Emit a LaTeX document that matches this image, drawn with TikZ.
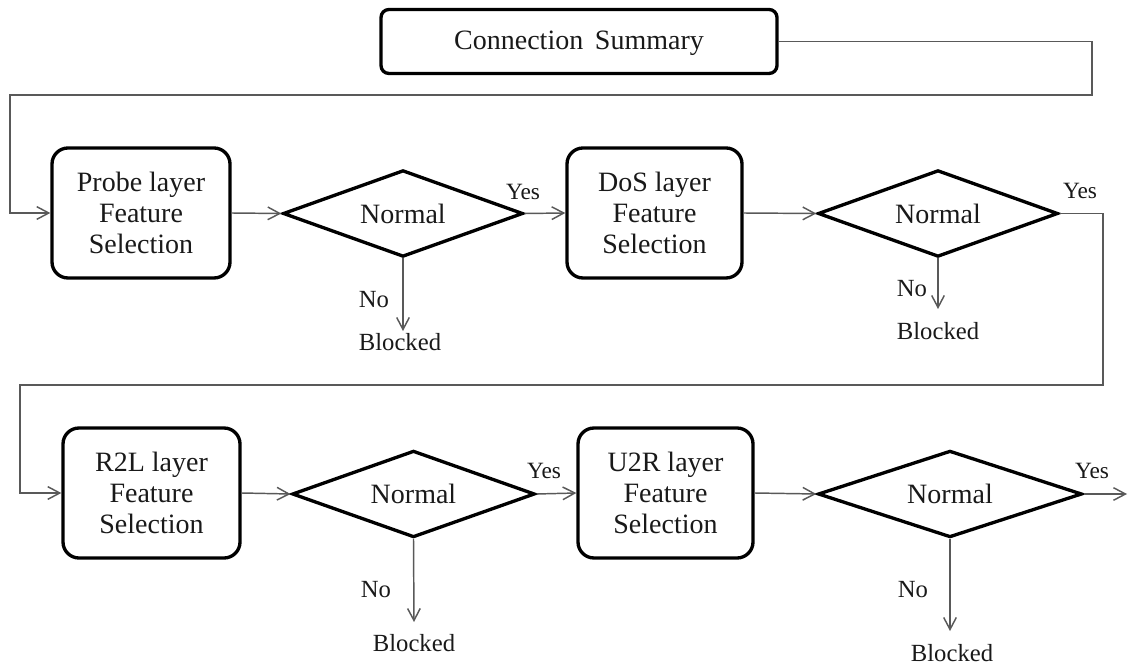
\documentclass[tikz,border=0pt]{standalone}
\usepackage{fontspec}
\setmainfont{Liberation Serif}
\usetikzlibrary{shapes.geometric,arrows.meta}
\begin{document}
\begin{tikzpicture}[x=0.75pt,y=-0.75pt,
  box/.style={draw=black,line width=2.5pt,rounded corners=12pt,align=center,
    font=\fontsize{21}{23.5}\selectfont,text=black!90,inner sep=0pt},
  dia/.style={draw=black,line width=2.5pt,shape=diamond,aspect=2.7,inner sep=0pt,
    minimum height=65pt,font=\fontsize{21}{23.5}\selectfont,text=black!90},
  lab/.style={font=\fontsize{18.5}{20}\selectfont,text=black!90,inner sep=0pt},
  ylab/.style={font=\fontsize{17.5}{20}\selectfont,text=black!90,inner sep=0pt},
  conn/.style={draw=black!65,line width=1.1pt,
    -{Straight Barb[length=9pt,width=9.5pt,line width=1.1pt]}},
  plain/.style={draw=black!65,line width=1.1pt}
]
\useasboundingbox (0,0) rectangle (1128,666);

% top
\node[box,rounded corners=6pt,minimum width=297pt,minimum height=48pt,text depth=0pt,text height=12pt] (cs) at (579,41.5) {Connection\, Summary};

% row 1
\node[box,minimum width=133.5pt,minimum height=97.5pt] (probe) at (141,213) {Probe layer\\Feature\\Selection};
\node[dia,minimum width=180pt] (d1) at (403,213.5) {Normal};
\node[box,minimum width=131.25pt,minimum height=97.5pt] (dos) at (654.5,213) {DoS layer\\Feature\\Selection};
\node[dia,minimum width=180pt] (d2) at (938,213.5) {Normal};

% row 2
\node[box,minimum width=132.75pt,minimum height=97.5pt] (r2l) at (151.5,493) {R2L layer\\Feature\\Selection};
\node[dia,minimum width=182pt] (d3) at (413.5,494) {Normal};
\node[box,minimum width=131.25pt,minimum height=97.5pt] (u2r) at (665.5,493) {U2R layer\\Feature\\Selection};
\node[dia,minimum width=198pt] (d4) at (950,494) {Normal};

% labels
\node[ylab] (y1) at (523,192) {Yes};
\node[ylab] (y2) at (1080,191) {Yes};
\node[ylab] (y3) at (544,471) {Yes};
\node[ylab] (y4) at (1092,471) {Yes};

\node[lab] (n1) at (374,300) {No};
\node[lab] (n2) at (912,289) {No};
\node[lab] (n3) at (376,590) {No};
\node[lab] (n4) at (913,590) {No};

\node[lab] (b1) at (400,342) {Blocked};
\node[lab] (b2) at (938,331) {Blocked};
\node[lab] (b3) at (414,643) {Blocked};
\node[lab] (b4) at (952,653) {Blocked};

% coordinates
\coordinate (c1) at (1092,41.5);
\coordinate (c2) at (1092,95);
\coordinate (c3) at (10,95);
\coordinate (c4) at (1103,213.5);
\coordinate (c5) at (1103,385);
\coordinate (c6) at (20,385);
\coordinate (e1) at (403,331);
\coordinate (e2) at (938,309);
\coordinate (e3) at (414,622);
\coordinate (e4) at (950,631);
\coordinate (e5) at (1127,494);

% connectors
\draw[conn] (cs.east) -- (c1) -- (c2) -- (c3) |- (probe.west);
\draw[conn] (probe.east) -- (d1.west);
\draw[conn] (d1.east) -- (dos.west);
\draw[conn] (d1.south) -- (e1);
\draw[conn] (dos.east) -- (d2.west);
\draw[conn] (d2.south) -- (e2);
\draw[conn] (d2.east) -- (c4) -- (c5) -- (c6) |- (r2l.west);
\draw[conn] (r2l.east) -- (d3.west);
\draw[conn] (d3.east) -- (u2r.west);
\draw[conn] (d3.south) -- (e3);
\draw[conn] (u2r.east) -- (d4.west);
\draw[conn] (d4.south) -- (e4);
\draw[conn] (d4.east) -- (e5);
\end{tikzpicture}
\end{document}
